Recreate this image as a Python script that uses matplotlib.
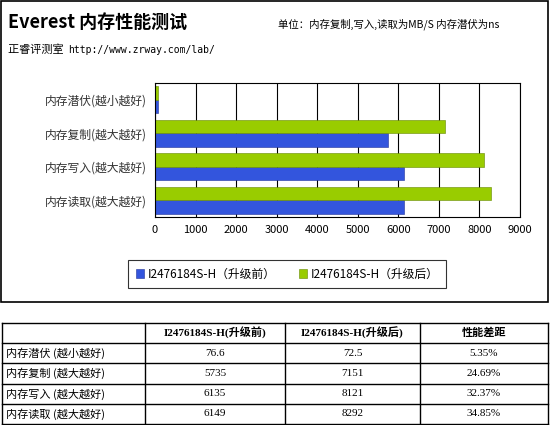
import matplotlib
matplotlib.use("Agg")
import matplotlib.pyplot as plt
from matplotlib.patches import Rectangle
from matplotlib.lines import Line2D
import numpy as np

plt.rcParams['font.family'] = ['Noto Sans CJK SC', 'DejaVu Sans']

categories = ["内存读取(越大越好)", "内存写入(越大越好)", "内存复制(越大越好)", "内存潜伏(越小越好)"]
before = [6149, 6135, 5735, 76.6]
after = [8292, 8121, 7151, 72.5]
series_names = ["I2476184S-H（升级前）", "I2476184S-H（升级后）"]
xticks = [0, 1000, 2000, 3000, 4000, 5000, 6000, 7000, 8000, 9000]

table_header = ["", "I2476184S-H(升级前)", "I2476184S-H(升级后)", "性能差距"]
table_rows = [
    ["内存潜伏 (越小越好)", "76.6", "72.5", "5.35%"],
    ["内存复制 (越大越好)", "5735", "7151", "24.69%"],
    ["内存写入 (越大越好)", "6135", "8121", "32.37%"],
    ["内存读取 (越大越好)", "6149", "8292", "34.85%"],
]

W, H = 550, 425
fig = plt.figure(figsize=(5.5, 4.25), dpi=100)
fig.patch.set_facecolor("white")

def fx(x): return x / W
def fy(y): return 1 - y / H

fig.add_artist(Rectangle((fx(1), fy(302)), fx(547), 301 / H, fill=False, ec="black", lw=1.2, transform=fig.transFigure))

fig.text(fx(8), fy(22), "Everest 内存性能测试", fontsize=13, fontweight="bold", va="center")
fig.text(fx(278), fy(24), "单位：内存复制,写入,读取为MB/S 内存潜伏为ns", fontsize=7.5, va="center")
fig.text(fx(8), fy(50), "正睿评测室 ", fontsize=8, va="center")
fig.text(fx(68), fy(50), "http://www.zrway.com/lab/", fontsize=7, va="center", family="DejaVu Sans Mono")

ax = fig.add_axes([fx(155), fy(217), fx(520) - fx(155), (217 - 83) / H])
y = np.arange(len(categories))
h = 0.4
ax.barh(y - h / 2, before, height=h, color="#3355dd", edgecolor="#223399", lw=0.4, label=series_names[0])
ax.barh(y + h / 2, after, height=h, color="#99cc00", edgecolor="#668800", lw=0.4, label=series_names[1])
ax.set_xlim(0, 9000)
ax.set_ylim(-0.5, 3.5)
ax.set_xticks(xticks)
ax.set_xticklabels([str(t) for t in xticks], fontsize=8)
ax.set_yticks(y)
ax.set_yticklabels(categories, fontsize=8.5, color="#333333")
ax.tick_params(length=0, pad=6)
ax.xaxis.grid(True, color="black", lw=0.8)
ax.set_axisbelow(True)
for s in ax.spines.values():
    s.set_color("black"); s.set_linewidth(0.8)

leg = fig.legend(loc="center", bbox_to_anchor=(fx(287), fy(274)), ncol=2, fontsize=8.5,
                 frameon=True, fancybox=False, edgecolor="black", handlelength=0.7, handleheight=0.7,
                 columnspacing=2.0, handletextpad=0.3, borderpad=0.6)
leg.get_frame().set_linewidth(0.8)

col_x = [2, 145, 285, 420, 548]
row_y = [323, 343, 363, 384, 404, 424]
for yy in row_y:
    fig.add_artist(Line2D([fx(2), fx(548)], [fy(yy), fy(yy)], color="black", lw=1, transform=fig.transFigure))
for xx in col_x:
    fig.add_artist(Line2D([fx(xx), fx(xx)], [fy(323), fy(424)], color="black", lw=1, transform=fig.transFigure))
for j, t in enumerate(table_header):
    cx = (col_x[j] + col_x[j + 1]) / 2
    fig.text(fx(cx), fy(333), t, fontsize=8, fontweight="bold", ha="center", va="center",
             family=["Liberation Serif", "Noto Sans CJK SC"])
for i, row in enumerate(table_rows):
    cy = (row_y[i + 1] + row_y[i + 2]) / 2
    for j, t in enumerate(row):
        if j == 0:
            fig.text(fx(6), fy(cy), t, fontsize=8, ha="left", va="center")
        else:
            cx = (col_x[j] + col_x[j + 1]) / 2
            fig.text(fx(cx), fy(cy), t, fontsize=8, ha="center", va="center", family="Liberation Serif")

fig.savefig("out.png", dpi=100)
